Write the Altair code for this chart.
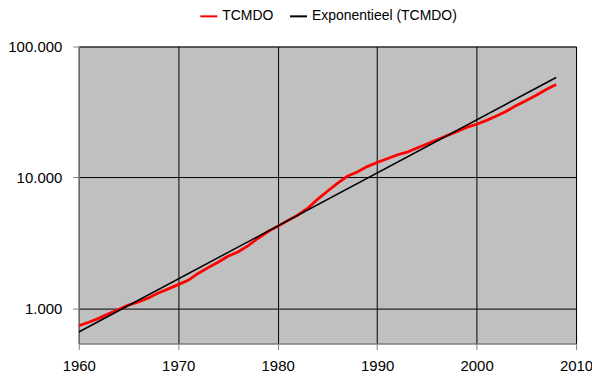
import altair as alt
import pandas as pd

years = list(range(1960, 2009))
tcmdo = [738, 785, 840, 910, 980, 1060, 1120, 1200, 1310, 1410,
         1520, 1640, 1850, 2050, 2250, 2500, 2700, 3000, 3420, 3850,
         4230, 4680, 5150, 5800, 6800, 7850, 9000, 10200, 11000, 12100,
         13000, 13900, 14850, 15600, 16800, 18000, 19400, 20800, 22400, 24100,
         25500, 27300, 29500, 32000, 35500, 38700, 42500, 47000, 51200]

trend_years = [1960, 2008]
trend_vals = [661, 58000]

s1 = "TCMDO"
s2 = "Exponentieel (TCMDO)"

df1 = pd.DataFrame({"year": years, "value": tcmdo, "series": s1})
df2 = pd.DataFrame({"year": trend_years, "value": trend_vals, "series": s2})

FONT = "Liberation Sans"

x = alt.X("year:Q",
          scale=alt.Scale(domain=[1960, 2010], nice=False, zero=False),
          axis=alt.Axis(values=[1960, 1970, 1980, 1990, 2000, 2010], format="d",
                        title=None, grid=True, gridColor="#000000", gridWidth=1,
                        domainColor="#808080", tickColor="#808080", tickSize=6,
                        labelFlush=False, labelOverlap=False,
                        labelPadding=9, labelFontSize=15, labelFont=FONT,
                        labelColor="#000000"))
y = alt.Y("value:Q",
          scale=alt.Scale(type="log", domain=[540, 100000], nice=False),
          axis=alt.Axis(values=[1000, 10000, 100000],
                        labelExpr="replace(format(datum.value, ',.0f'), /,/g, '.')",
                        title=None, grid=True, gridColor="#000000", gridWidth=1,
                        domainColor="#808080", tickColor="#808080", tickSize=6,
                        labelFlush=False,
                        labelPadding=11, labelFontSize=15, labelFont=FONT,
                        labelColor="#000000"))
color = alt.Color("series:N",
                  scale=alt.Scale(domain=[s1, s2], range=["#FF0000", "#000000"]),
                  legend=alt.Legend(title=None, orient="none", direction="horizontal",
                                    legendX=121, legendY=-40,
                                    symbolType="stroke", symbolStrokeWidth=2,
                                    symbolSize=289, labelFont=FONT, labelFontSize=14,
                                    labelColor="#000000", labelOffset=4,
                                    columnPadding=12))

red = alt.Chart(df1).mark_line(strokeWidth=2.8, clip=True).encode(x=x, y=y, color=color)
black = alt.Chart(df2).mark_line(strokeWidth=1.5, clip=True).encode(x=x, y=y, color=color)

chart = (red + black).properties(
    width=499, height=298,
    autosize=alt.AutoSizeParams(type="none"),
    padding={"left": 71, "top": 38, "right": 16, "bottom": 30},
    background="#FFFFFF",
).configure_view(fill="#C0C0C0", stroke="#808080", strokeWidth=1)

chart.save("out.html", embed_options={"renderer": "svg", "actions": False})
